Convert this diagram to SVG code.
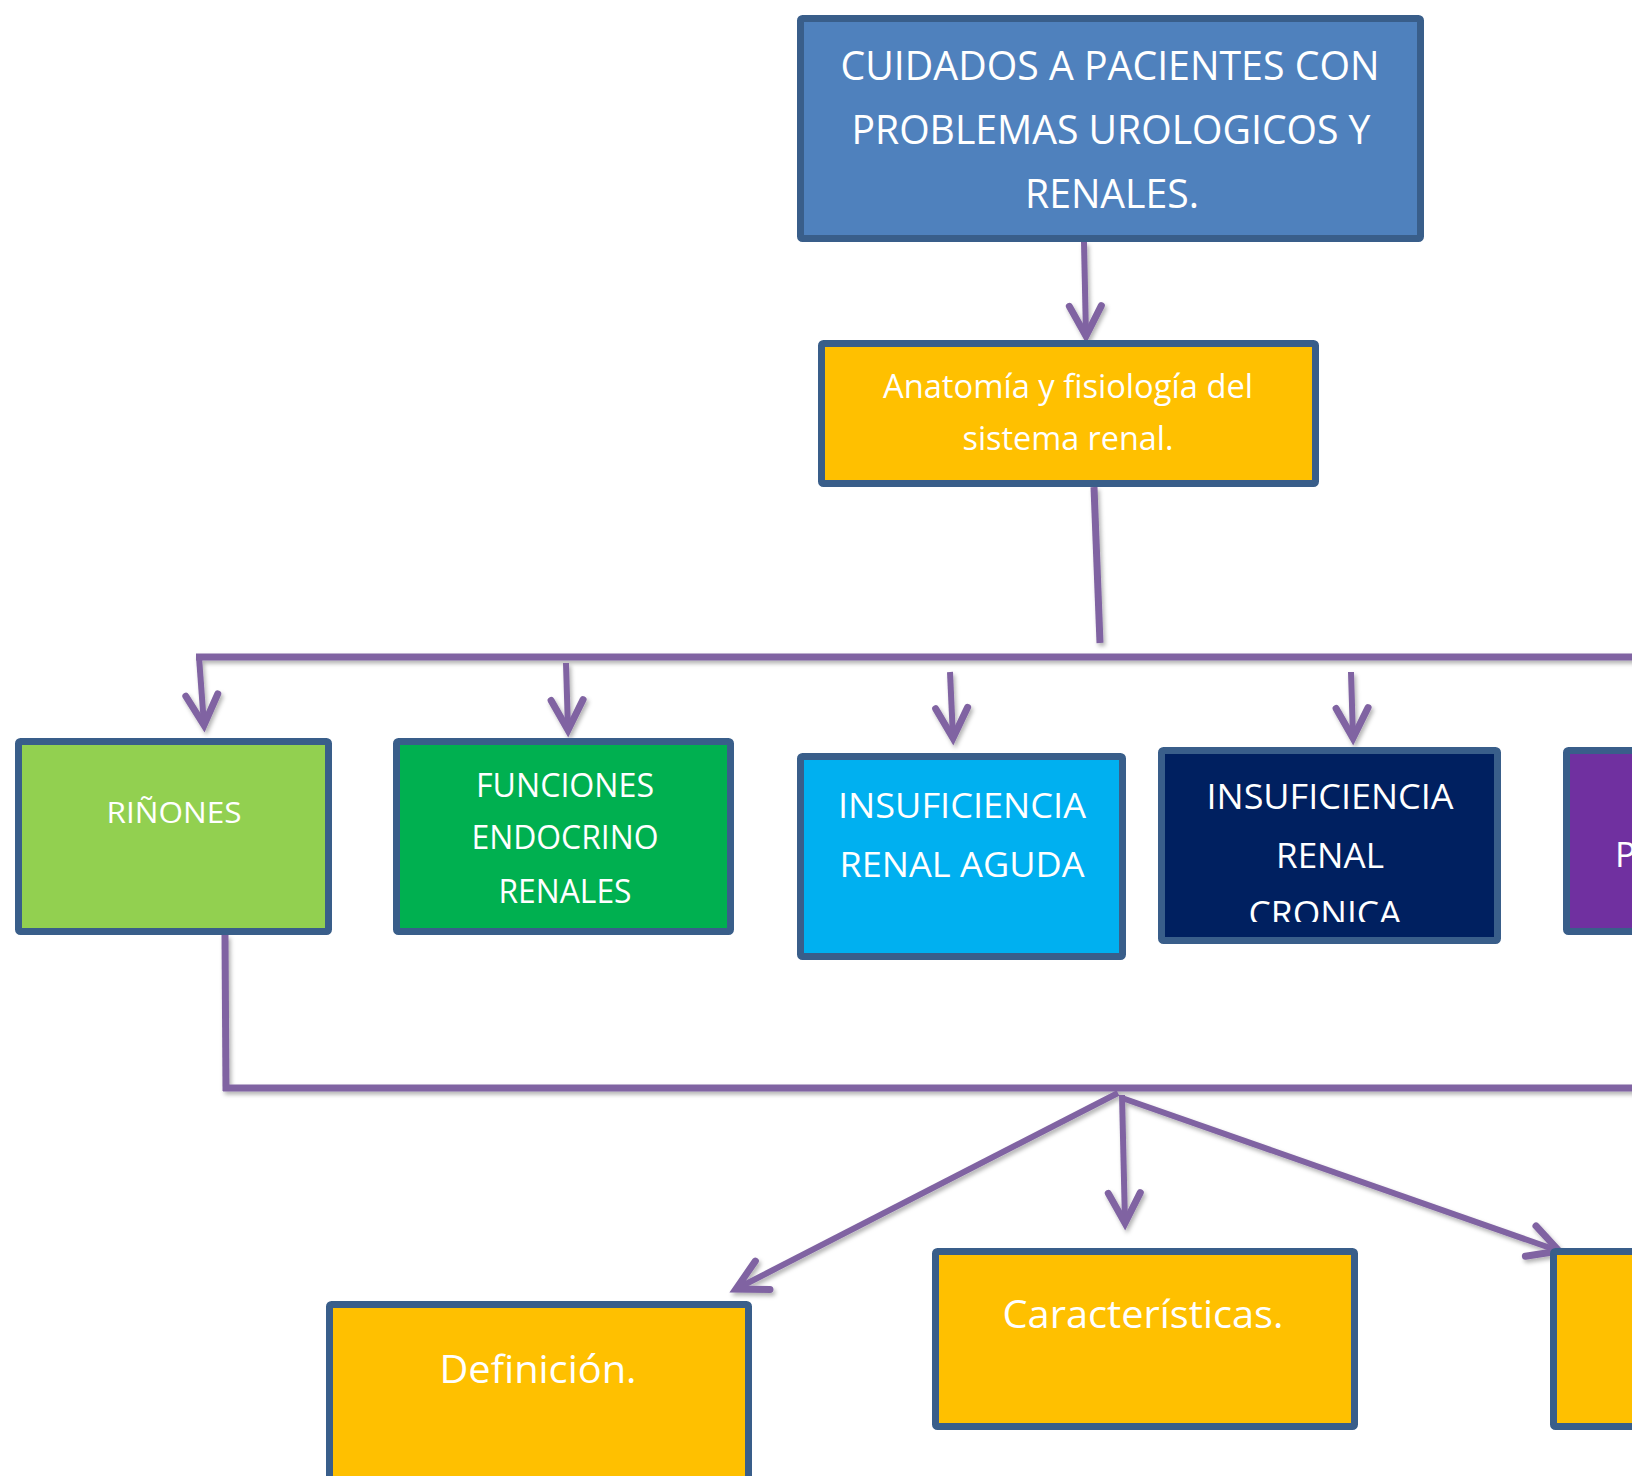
<svg xmlns="http://www.w3.org/2000/svg" width="1632" height="1476" viewBox="0 0 1632 1476">
<style>
.box{stroke:#395E8A;stroke-width:7}
.t{font-family:"Open Sans","Liberation Sans",sans-serif;fill:#FFFFFF;text-anchor:middle}
.c{fill:none;stroke:#8064A2;stroke-width:7;stroke-linecap:butt}
.a{fill:none;stroke:#8064A2;stroke-width:6;marker-end:url(#ah)}
</style>
<defs>
<marker id="ah" markerUnits="userSpaceOnUse" orient="auto" refX="0" refY="0" markerWidth="60" markerHeight="60" viewBox="-40 -30 50 60" overflow="visible">
<path d="M -30,-16 L 0,0 L -30,16" fill="none" stroke="#8064A2" stroke-width="7" stroke-linecap="round" stroke-linejoin="miter"/>
</marker>
<filter id="sh" x="-10%" y="-10%" width="120%" height="130%">
<feDropShadow dx="2" dy="3" stdDeviation="2" flood-color="#000" flood-opacity="0.3"/>
</filter>
<clipPath id="clipCr"><rect x="1160" y="750" width="340" height="172"/></clipPath>
</defs>

<g id="connectors" filter="url(#sh)">
<line class="a" x1="1084" y1="242" x2="1086" y2="336"/>
<line class="c" x1="1094" y1="487" x2="1100" y2="643"/>
<line class="c" x1="196" y1="657" x2="1640" y2="657"/>
<line class="a" x1="199" y1="657" x2="204" y2="725"/>
<line class="a" x1="566" y1="663" x2="568" y2="730"/>
<line class="a" x1="950" y1="672" x2="953" y2="738"/>
<line class="a" x1="1351" y1="672" x2="1353" y2="738"/>
<line class="c" x1="225" y1="935" x2="226" y2="1091"/>
<line class="c" x1="223" y1="1088" x2="1640" y2="1088"/>
<line class="a" x1="1118" y1="1093" x2="736" y2="1289"/>
<line class="a" x1="1122" y1="1095" x2="1125" y2="1223"/>
<line class="a" x1="1122" y1="1098" x2="1559" y2="1251"/>
</g>

<g id="node-titulo">
<rect class="box" x="800.5" y="18.5" width="620" height="220" rx="2" fill="#4F81BD"/>
<text class="t" font-size="40" x="1110" y="80" textLength="539" lengthAdjust="spacingAndGlyphs">CUIDADOS A PACIENTES CON</text>
<text class="t" font-size="40" x="1111" y="144" textLength="519" lengthAdjust="spacingAndGlyphs">PROBLEMAS UROLOGICOS Y</text>
<text class="t" font-size="40" x="1112" y="208" textLength="174" lengthAdjust="spacingAndGlyphs">RENALES.</text>
</g>

<g id="node-anatomia">
<rect class="box" x="821.5" y="343.5" width="494" height="140" rx="2" fill="#FFC000"/>
<text class="t" font-size="32" x="1068" y="398" textLength="370" lengthAdjust="spacingAndGlyphs">Anatomía y fisiología del</text>
<text class="t" font-size="32" x="1068" y="450" textLength="211" lengthAdjust="spacingAndGlyphs">sistema renal.</text>
</g>

<g id="node-rinones">
<rect class="box" x="18.5" y="741.5" width="310" height="190" rx="2" fill="#92D050"/>
<text class="t" font-size="30" x="174" y="823" textLength="135" lengthAdjust="spacingAndGlyphs">RIÑONES</text>
</g>

<g id="node-funciones">
<rect class="box" x="396.5" y="741.5" width="334" height="190" rx="2" fill="#00B050"/>
<text class="t" font-size="33" x="565" y="797" textLength="178" lengthAdjust="spacingAndGlyphs">FUNCIONES</text>
<text class="t" font-size="33" x="565" y="849" textLength="187" lengthAdjust="spacingAndGlyphs">ENDOCRINO</text>
<text class="t" font-size="33" x="565" y="903" textLength="133" lengthAdjust="spacingAndGlyphs">RENALES</text>
</g>

<g id="node-ira">
<rect class="box" x="800.5" y="756.5" width="322" height="200" rx="2" fill="#00B0F0"/>
<text class="t" font-size="35" x="962" y="818" textLength="248" lengthAdjust="spacingAndGlyphs">INSUFICIENCIA</text>
<text class="t" font-size="35" x="962" y="877" textLength="245" lengthAdjust="spacingAndGlyphs">RENAL AGUDA</text>
</g>

<g id="node-irc">
<rect class="box" x="1161.5" y="750.5" width="336" height="190" rx="2" fill="#002060"/>
<g clip-path="url(#clipCr)">
<text class="t" font-size="35" x="1330" y="809" textLength="247" lengthAdjust="spacingAndGlyphs">INSUFICIENCIA</text>
<text class="t" font-size="35" x="1330" y="868" textLength="108" lengthAdjust="spacingAndGlyphs">RENAL</text>
<text class="t" font-size="35" x="1325" y="926" textLength="153" lengthAdjust="spacingAndGlyphs">CRONICA</text>
</g>
</g>

<g id="node-morado">
<rect class="box" x="1566.5" y="750.5" width="200" height="181" rx="2" fill="#7030A0"/>
<text class="t" font-size="35" x="1615" y="867" style="text-anchor:start">P</text>
</g>

<g id="node-definicion">
<rect class="box" x="329.5" y="1304.5" width="419" height="200" rx="2" fill="#FFC000"/>
<text class="t" font-size="39" x="538" y="1383" textLength="197" lengthAdjust="spacingAndGlyphs">Definición.</text>
</g>

<g id="node-caracteristicas">
<rect class="box" x="935.5" y="1251.5" width="419" height="175" rx="2" fill="#FFC000"/>
<text class="t" font-size="39" x="1143" y="1328" textLength="281" lengthAdjust="spacingAndGlyphs">Características.</text>
</g>

<g id="node-tercero">
<rect class="box" x="1553.5" y="1251.5" width="200" height="175" rx="2" fill="#FFC000"/>
</g>
</svg>
